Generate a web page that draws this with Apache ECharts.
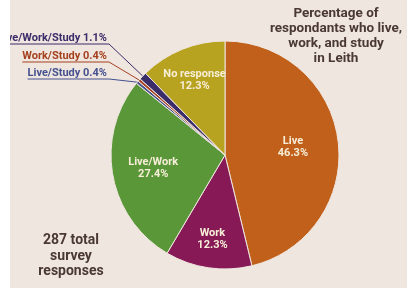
<!DOCTYPE html>
<html>
<head>
<meta charset="utf-8">
<script src="https://cdn.jsdelivr.net/npm/echarts@6/dist/echarts.min.js"></script>
<style>
html, body { margin: 0; padding: 0; background: #fff; }
#main { position: absolute; left: 10px; top: 0; width: 397px; height: 288px; background: #EFE6DF; }
</style>
</head>
<body>
<div id="main"></div>
<script>
// 数据
var names = ['Live', 'Work', 'Live/Work', 'Live/Study', 'Work/Study', 'Live/Work/Study', 'No response'];
var values = [46.3, 12.3, 27.4, 0.4, 0.4, 1.1, 12.3];
var titleLines = ['Percentage of', 'respondants who live,', 'work, and study', 'in Leith'];
var noteLines = ['287 total', 'survey', 'responses'];

// 样式
var sliceColors = ['#C1601B', '#871A56', '#5A9738', '#45518F', '#A5411F', '#3B2C6A', '#B8A320'];
var labelColors = ['#F7EED8', '#F7EED8', '#F7EED8', '#45518F', '#A5411F', '#3B2C6A', '#F7EED8'];
var insideR = [0.6, 0.75, 0.64, 0, 0, 0, 0.71];   // 内部标签半径比例
var underlineY = [0, 0, 0, 79, 62, 44, 0];        // 外部标签下划线位置
var outRight = 97;
var cx = 215, cy = 155, R = 114;
var font = 'Roboto, "DejaVu Sans", sans-serif';
var darkText = '#4A3833';

var total = values.reduce(function (a, b) { return a + b; }, 0);
function midAngle(i) {
    var s = 0;
    for (var k = 0; k < i; k++) s += values[k];
    return (s + values[i] / 2) / total * Math.PI * 2;
}
function pointAt(i, r) {
    var a = midAngle(i);
    return [cx + r * Math.sin(a), cy - r * Math.cos(a)];
}

var myChart = echarts.init(document.getElementById('main'));

var data = names.map(function (n, i) {
    var item = { name: n, value: values[i], itemStyle: { color: sliceColors[i] } };
    if (underlineY[i]) {
        item.label = { position: 'outside', color: labelColors[i], fontSize: 11, formatter: function (p) { return p.name + ' ' + p.value.toFixed(1) + '%'; } };
        item.labelLine = { show: true, lineStyle: { color: labelColors[i], width: 1 } };
    }
    return item;
});

option = {
    animation: false,
    graphic: [
        {
            type: 'text', x: 326, y: 6,
            style: { text: titleLines.join('\n'), align: 'center', verticalAlign: 'top', fill: darkText, font: 'bold 13.5px ' + font, lineHeight: 15 }
        },
        {
            type: 'text', x: 61, y: 233,
            style: { text: noteLines.join('\n'), align: 'center', verticalAlign: 'top', fill: darkText, font: 'bold 14px ' + font, lineHeight: 15.5 }
        }
    ],
    series: [
        {
            type: 'pie',
            center: [cx, cy],
            radius: [0, R],
            startAngle: 90,
            clockwise: true,
            avoidLabelOverlap: false,
            itemStyle: { borderColor: '#EFE6DF', borderWidth: 1 },
            label: {
                position: 'inside',
                color: '#F7EED8',
                fontFamily: font,
                fontWeight: 'bold',
                fontSize: 11,
                lineHeight: 12,
                formatter: function (p) { return p.name + '\n' + p.value.toFixed(1) + '%'; }
            },
            labelLine: { show: false },
            labelLayout: function (params) {
                var i = params.dataIndex;
                if (underlineY[i]) {
                    var ly = underlineY[i];
                    var edge = pointAt(i, R);
                    return {
                        x: outRight, y: ly, align: 'right', verticalAlign: 'bottom',
                        labelLinePoints: [edge, [outRight + 2, ly], [outRight - params.labelRect.width, ly]]
                    };
                }
                var p = pointAt(i, R * insideR[i]);
                return { x: p[0], y: p[1], align: 'center', verticalAlign: 'middle' };
            },
            emphasis: { disabled: true },
            data: data
        }
    ]
};
myChart.setOption(option);
</script>
</body>
</html>
